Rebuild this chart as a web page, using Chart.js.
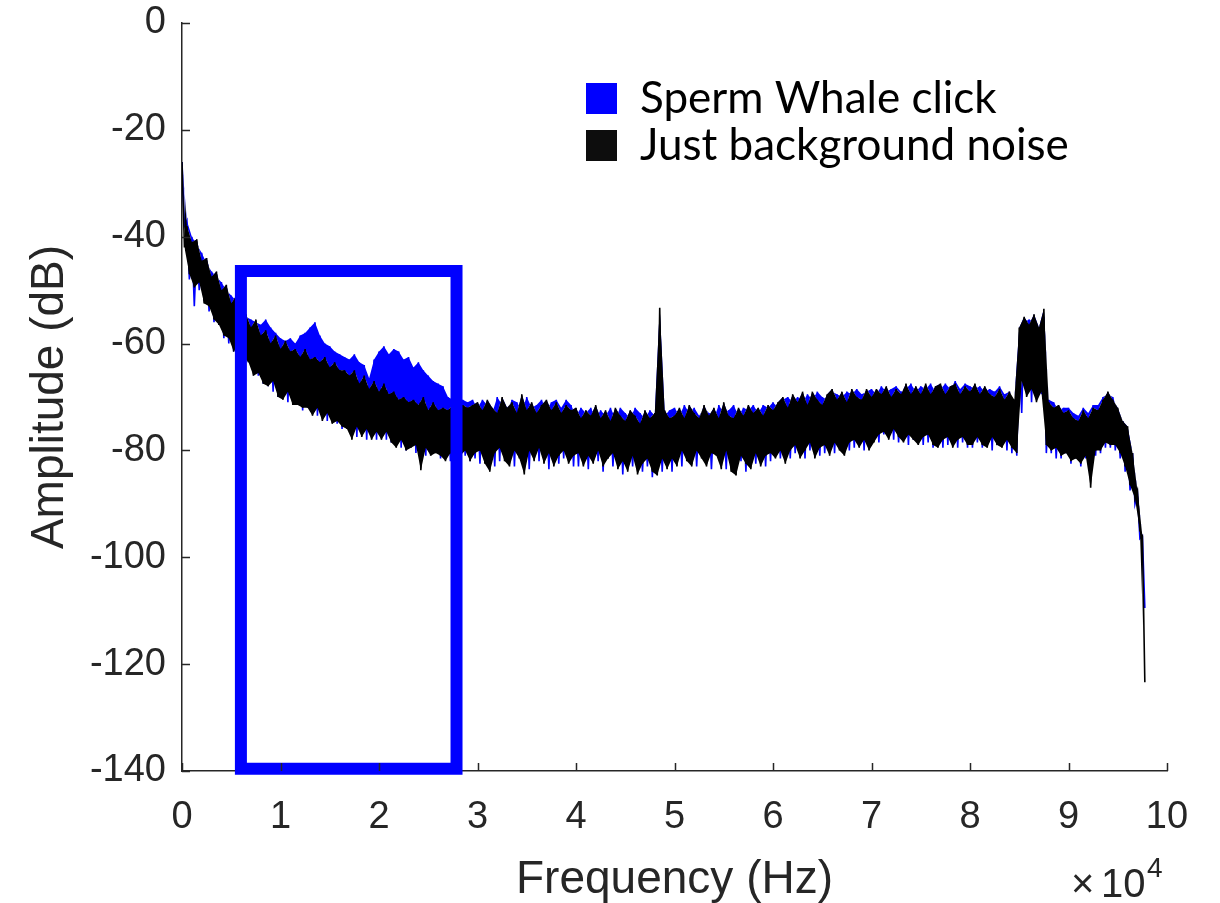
<!DOCTYPE html>
<html lang="en">
<head>
  <meta charset="UTF-8">
  <title>Spectrum: Sperm Whale click vs background noise</title>
  <script src="https://cdn.jsdelivr.net/npm/chart.js@4.4.0/dist/chart.umd.min.js"></script>
  <style>
    body { margin: 0; background: #fff; }
    #chartContainer { width: 1220px; height: 903px; }
  </style>
</head>
<body>
  <div id="chartContainer">
    <canvas id="spectrumChart"></canvas>
  </div>

  <script>
    // spectrum bins, 500 Hz apart, starting at 0 Hz
    const BIN_HZ = 500;

    // upper / lower edge of each bin (dB), 20 bins per 10^4 Hz
    const blackHi = [
      -26, -38, -41, -40.5, -44.5, -44, -47.5, -46.5, -50, -49, -52.5, -51, -54.5, -54.5, -57, -55.5, -58.5, -57.5, -60, -58.5,
      -61, -59.5, -61.5, -61, -62.5, -61, -63, -62.5, -63.5, -62.5, -64.5, -63.5, -65, -65, -66, -65, -67.5, -66, -68.5, -67,
      -69, -67.5, -69.5, -69, -70.5, -70, -71, -70.5, -71.5, -70, -72.5, -71, -72.5, -72, -72.5, -71.5, -73.5, -71.5, -72, -71.5,
      -71, -72.5, -70.5, -72, -73, -70, -72, -71, -73, -69.5, -72.5, -71, -73, -71.5, -70.5, -72.5, -71, -73, -71.5, -72.5,
      -72, -74, -72.5, -73.5, -71.5, -74, -72.5, -74.5, -72, -73.5, -74.5, -72.5, -73.5, -75, -72.5, -74, -73, -53.3, -72.5, -74,
      -73.5, -72, -74, -71.5, -73, -74, -71.5, -73.5, -72, -74, -71, -73.5, -74, -72, -73.5, -71.5, -73, -72, -73.5, -71.5,
      -72.5, -71, -70, -72, -69.5, -71, -69, -71.5, -69, -70.5, -71.5, -69.5, -68.5, -70.5, -69, -71, -68.5, -70, -70.5, -68.5,
      -70, -68.5, -69.5, -68, -70, -68.5, -69.5, -67.5, -69.5, -68, -69.5, -67.5, -69.5, -68, -67.5, -69.5, -68, -67.5, -69.5, -68,
      -69, -67.5, -69.5, -68, -69.5, -70, -68.5, -70.5, -69, -70.5, -57, -55, -56.5, -54.5, -57, -53.5, -71, -72, -71.5, -73,
      -72.5, -74, -74.5, -72.5, -74, -72, -72.5, -70.5, -69, -70.5, -72, -74.5, -75.5, -80.5, -87.5, -96
    ];
    const blackLo = [
      -42, -47, -49.5, -48.5, -52.5, -53, -55.5, -56.5, -58.5, -59, -61.5, -60, -62.5, -63.5, -66, -65.5, -67.5, -68, -67, -70,
      -70.5, -69, -71.5, -71.5, -72, -72, -73.5, -72, -74.5, -73, -75, -74.5, -75.5, -76, -78, -75.5, -77.5, -76, -78, -76.5,
      -78, -76.5, -78.5, -79.5, -78, -80, -79.5, -79, -83.7, -79.5, -81, -80.5, -81, -82, -80.5, -82.5, -81, -80, -82, -80.5,
      -80, -82.5, -84, -80.5, -79.5, -82, -83, -80, -81.5, -84.5, -80, -82, -79.5, -82.5, -80.5, -83, -81, -80, -82.5, -81,
      -80.5, -83, -81, -82.5, -80, -83, -81.5, -80.5, -83.5, -82, -84, -81, -84.5, -82.5, -81.5, -84, -84.7, -81.5, -83.5, -81.5,
      -83, -80, -82, -83, -80, -81.5, -83, -80.5, -81, -83.5, -80, -84, -84.7, -81, -82.5, -83.5, -80.5, -83, -81, -80.5,
      -81.5, -80, -82.5, -80, -79, -81.5, -80, -78.5, -81.5, -79.5, -79, -81, -78.5, -80, -81, -78.5, -78, -79.5, -78, -80,
      -78.5, -77, -76.5, -78, -76, -77.5, -78.5, -77, -78, -79, -77.5, -77, -79, -79.5, -78, -77.5, -79.5, -78, -77.5, -79,
      -79, -77.5, -79, -79.5, -77.5, -79, -79.5, -78, -79.5, -80.5, -67, -70, -68.5, -71, -69, -79, -80, -79.5, -81, -80.5,
      -82, -81.5, -82.5, -81, -87, -80, -80, -78.5, -79, -79, -80.5, -83, -86.5, -89, -95, -123.4
    ];
    const blueHi = [
      -26, -37, -40, -41.5, -43, -45, -46.5, -47.5, -48.5, -50, -51, -52, -53, -55, -55.5, -56, -56.5, -55.5, -57, -58,
      -59, -59.5, -59, -60, -58.5, -58, -57, -56, -58.5, -60, -60.5, -61.5, -62, -62.5, -63, -62, -63.5, -64, -66.5, -63,
      -61.5, -60.5, -62, -61, -61.5, -63, -62.5, -64.5, -63.5, -65, -66, -67, -67.5, -68, -70, -70.5, -71, -70.5, -71, -70.5,
      -72, -70.5, -71.5, -73, -70, -71.5, -72.5, -70.5, -71, -72.5, -70, -72, -71.5, -70.5, -72.5, -71, -70.5, -72, -70.5, -71.5,
      -73.5, -72, -73, -72, -74, -72.5, -73.5, -72, -74, -72, -73, -74, -72, -73, -74, -72.5, -73.5, -72, -73.5, -72.5,
      -72, -73.5, -71.5, -73, -72, -73.5, -72, -73, -74, -71.5, -73, -72.5, -71.5, -73.5, -72, -72.5, -71.5, -73, -71.5, -72,
      -71, -72, -70.5, -70, -71, -70, -71, -69.5, -70.5, -69, -70, -70.5, -69, -69.5, -70, -69, -69.5, -68.5, -69.5, -69,
      -68.5, -69.5, -68, -69, -68.5, -68, -69, -68.5, -67.5, -69, -68, -68.5, -67.5, -69, -68.5, -67.5, -68.5, -67, -68.5, -67.5,
      -68, -68.5, -68, -69, -68.5, -69, -68, -69.5, -69, -70.5, -61, -56, -55.5, -56, -57, -55, -70.5, -71, -72.5, -72,
      -72, -73, -73.5, -72, -73, -71.5, -71.5, -70, -69.5, -70, -72.5, -74.5, -77, -80.5, -88, -96
    ];
    const blueLo = [
      -38, -48, -53, -50, -52, -54, -56, -56.5, -59, -60, -61.5, -61, -62, -63.5, -65, -66, -67.5, -68, -69, -70,
      -69, -71, -70, -71.5, -72.5, -71, -72, -73.5, -73, -74.5, -73.5, -75, -76, -75.5, -76, -77.5, -76.5, -78, -77, -78,
      -77, -78, -78.5, -78, -79.5, -80, -79, -80.5, -80, -81, -80.5, -80, -81.5, -81, -82, -81.5, -82.5, -81, -82, -81.5,
      -82.5, -80.5, -81, -83, -82, -80, -81.5, -83, -80.5, -82, -83.5, -80.5, -82, -81, -83.5, -80, -82.5, -81.5, -80.5, -83,
      -83, -81, -83.5, -81, -82, -84, -81.5, -83, -82, -84.5, -81.5, -83, -82.5, -84, -83, -85, -82, -84, -82.5, -84,
      -81, -83, -80.5, -82.5, -83, -80.5, -82.5, -83.5, -80.5, -82, -83.5, -81, -83, -82, -84, -80.5, -82.5, -81.5, -83, -82,
      -80.5, -81.5, -80, -81.5, -80.5, -79.5, -81.5, -80, -79, -81, -80.5, -79, -80.5, -79.5, -78.5, -80, -79.5, -78.5, -80, -78.5,
      -77.5, -78.5, -77, -77.5, -78, -78.5, -77, -79, -78, -77.5, -79, -78.5, -79.5, -78, -79.5, -79, -78, -79.5, -78.5, -79.5,
      -79.5, -78.5, -79.5, -78.5, -80, -79, -78, -80, -80.5, -81, -73, -68, -71, -70, -69.5, -80.5, -80.5, -81.5, -81.5, -80.5,
      -82.5, -81.5, -83, -81.5, -82.5, -81, -80.5, -79.5, -79.5, -80, -81.5, -84, -87.5, -90, -96.5, -109.5
    ];

    // highlighted band (Hz, dB)
    const boxFreq = [5980, 27870];
    const boxDb = [-46.4, -139.6];

    const xTicks = [0, 10000, 20000, 30000, 40000, 50000, 60000, 70000, 80000, 90000, 100000];
    const yTicks = [-140, -120, -100, -80, -60, -40, -20, 0];

    const legendItems = [
      { label: 'Sperm Whale click', color: '#0000ff' },
      { label: 'Just background noise', color: '#0d0d0d' }
    ];

    const AXIS_COLOR = '#262626';
    const BLUE = '#0000ff';
    const BLACK = '#000000';

    // each bin drawn as a stroke from its top edge to its bottom edge
    function binPath(hi, lo) {
      const pts = [];
      hi.forEach((h, i) => {
        const f = i * BIN_HZ;
        pts.push({ x: f, y: h });
        pts.push({ x: f + BIN_HZ / 2, y: lo[i] });
      });
      return pts;
    }
    const topEdge = hi => hi.map((h, i) => ({ x: i * BIN_HZ, y: h }));
    const bottomEdge = lo => lo.map((l, i) => ({ x: i * BIN_HZ + BIN_HZ / 2, y: l }));

    function boxPath() {
      const [l, r] = boxFreq;
      const [t, b] = boxDb;
      return [{ x: l, y: t }, { x: r, y: t }, { x: r, y: b }, { x: l, y: b }, { x: l, y: t }, { x: r, y: t }];
    }

    // inward tick marks, legend and the x10^4 multiplier
    const decorations = {
      id: 'decorations',
      afterDraw(chart) {
        const { ctx, chartArea: area, scales } = chart;
        ctx.save();
        ctx.strokeStyle = AXIS_COLOR;
        ctx.lineWidth = 1.5;
        ctx.beginPath();
        xTicks.forEach(v => {
          const px = Math.round(scales.x.getPixelForValue(v)) + 0.5;
          ctx.moveTo(px, area.bottom);
          ctx.lineTo(px, area.bottom - 8);
        });
        yTicks.forEach(v => {
          const py = Math.round(scales.y.getPixelForValue(v)) + 0.5;
          ctx.moveTo(area.left, py);
          ctx.lineTo(area.left + 8, py);
        });
        ctx.stroke();

        // legend
        ctx.font = '44px Lato, "Open Sans", sans-serif';
        ctx.textBaseline = 'alphabetic';
        legendItems.forEach((item, i) => {
          const top = 83 + i * 47;
          ctx.fillStyle = item.color;
          ctx.fillRect(586, top, 31, 31);
          ctx.fillStyle = '#000';
          ctx.fillText(item.label, 640, top + 30);
        });

        // exponent label
        ctx.fillStyle = AXIS_COLOR;
        ctx.font = '40px "Liberation Sans", Arial, sans-serif';
        ctx.fillText('\u00d7', 1071, 897);
        ctx.fillText('10', 1101, 897);
        ctx.font = '28px "Liberation Sans", Arial, sans-serif';
        ctx.fillText('4', 1147, 877);
        ctx.restore();
      }
    };

    Chart.defaults.font.family = '"Liberation Sans", Arial, sans-serif';
    Chart.defaults.color = AXIS_COLOR;

    const ctx = document.getElementById('spectrumChart').getContext('2d');
    new Chart(ctx, {
      type: 'line',
      data: {
        datasets: [
          // 0: highlight box, on top of everything
          { label: 'box', data: boxPath(), borderColor: BLUE, borderWidth: 12, borderJoinStyle: 'miter', clip: false, order: 0 },
          // 1-3: background noise (spiky stroke + filled band)
          { label: 'Just background noise', data: binPath(blackHi, blackLo), borderColor: BLACK, borderWidth: 1.6, order: 1 },
          { label: 'noise top', data: topEdge(blackHi), borderWidth: 0, order: 2 },
          { label: 'noise bottom', data: bottomEdge(blackLo), borderWidth: 0, backgroundColor: BLACK, fill: 2, order: 3 },
          // 4-5: sperm whale click (spiky stroke, filled only where it rises above the noise)
          { label: 'Sperm Whale click', data: binPath(blueHi, blueLo), borderColor: BLUE, borderWidth: 1.6, order: 4 },
          { label: 'click top', data: topEdge(blueHi), borderWidth: 0, backgroundColor: BLUE, fill: 2, order: 5 }
        ]
      },
      options: {
        responsive: true,
        maintainAspectRatio: false,
        animation: false,
        parsing: false,
        layout: { padding: { top: 23, right: 53, left: 0, bottom: 0 } },
        elements: { point: { radius: 0 }, line: { tension: 0 } },
        plugins: { legend: { display: false }, tooltip: { enabled: false } },
        scales: {
          x: {
            type: 'linear', min: 0, max: 100000,
            afterFit: s => { s.height = 132; },
            afterBuildTicks: s => { s.ticks = xTicks.map(v => ({ value: v })); },
            ticks: { font: { size: 38 }, padding: 24, maxRotation: 0, callback: v => String(v / 10000) },
            grid: { display: false, drawTicks: false },
            border: { display: true, color: AXIS_COLOR, width: 1.5 },
            title: { display: true, text: 'Frequency (Hz)', font: { size: 46, lineHeight: 1.0 }, padding: { top: 0, bottom: 0 } }
          },
          y: {
            min: -140, max: 0,
            afterFit: s => { s.width = 182; s.paddingTop = 0; s.paddingBottom = 0; },
            afterBuildTicks: s => { s.ticks = yTicks.map(v => ({ value: v })); },
            ticks: { font: { size: 38 }, padding: 16 },
            grid: { display: false, drawTicks: false },
            border: { display: true, color: AXIS_COLOR, width: 1.5 },
            title: { display: true, text: 'Amplitude (dB)', font: { size: 46 }, padding: { top: 23, bottom: 0 } }
          }
        }
      },
      plugins: [decorations]
    });
  </script>
</body>
</html>
